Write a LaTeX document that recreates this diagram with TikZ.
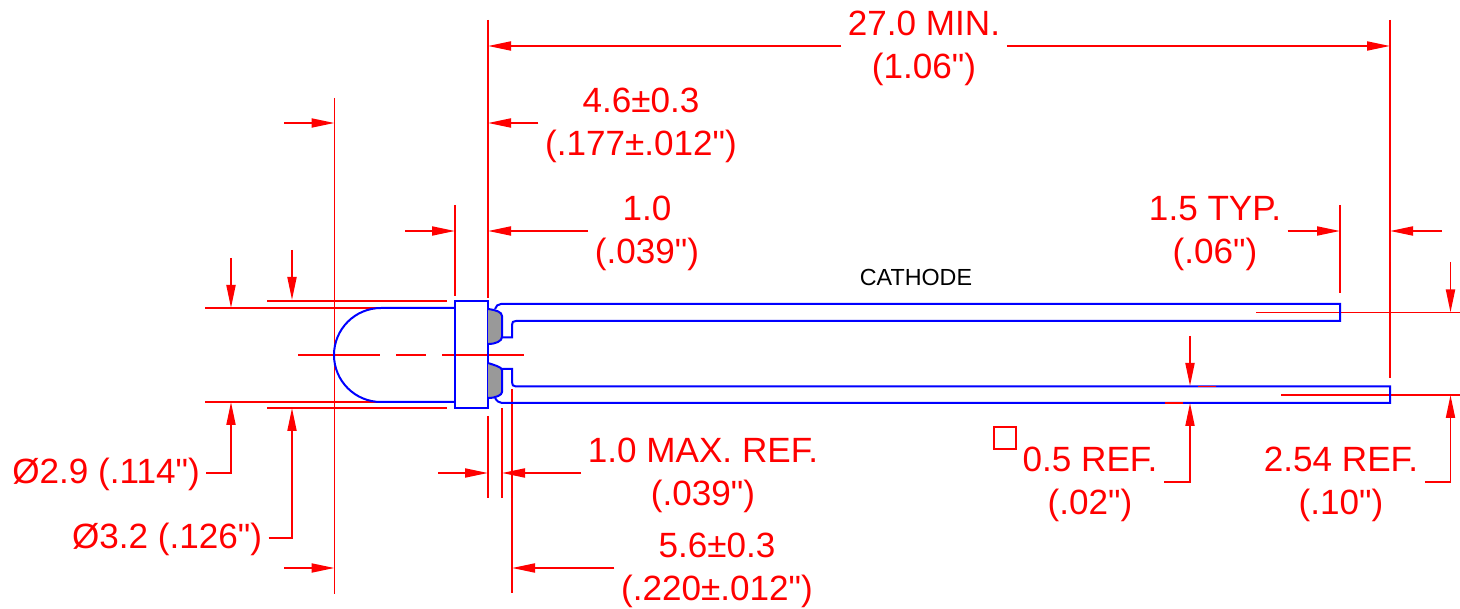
\documentclass[tikz,border=0pt]{standalone}
\usepackage{fontspec}
\setmainfont{Liberation Sans}[Ligatures=TeXOff]
\usepackage{xcolor}
\usetikzlibrary{arrows.meta}
\definecolor{dimred}{RGB}{255,0,0}
\definecolor{ledblue}{RGB}{0,0,255}
\definecolor{solder}{RGB}{153,153,153}
\newcommand{\dimstrut}{\rule[-12.9pt]{0pt}{47pt}}
\tikzset{
	dimline/.style={draw=dimred, line width=1.9pt},
	dimarrow/.style={dimline, ->},
	outline/.style={draw=ledblue, line width=2pt, line join=miter},
	blob/.style={outline, fill=solder},
	dimlabel/.style={text=dimred, font=\fontsize{35.1}{43}\selectfont, align=center, inner xsep=6.5pt, inner ysep=0pt},
	notelabel/.style={text=black, font=\fontsize{23.3}{26}\selectfont, inner sep=0pt}
}

\begin{document}
\begin{tikzpicture}[x=1pt, y=-1pt, >={Triangle[length=23pt,width=9pt]}]
	\useasboundingbox (0,0) rectangle (1460,609);

	\coordinate (domeLeft) at (334.5,355);
	\coordinate (bodyLeft) at (455,231);
	\coordinate (bodyRight) at (488,46);
	\coordinate (collarEnd) at (502,473);
	\coordinate (seatEnd) at (512,568);
	\coordinate (cathodeEnd) at (1340,231);
	\coordinate (anodeEnd) at (1390,46);
	\coordinate (lensTop) at (231,308);
	\coordinate (flangeTop) at (292,300);
	\coordinate (lensBottom) at (231,402);
	\coordinate (flangeBottom) at (292,408);
	\coordinate (cathodeAxis) at (1450.5,312.5);
	\coordinate (anodeAxis) at (1450.5,395);
	\coordinate (leadTop) at (1190,386);
	\coordinate (leadBottom) at (1190,403);

	\node[dimlabel] (lblMin) at (924,46) {\dimstrut 27.0 MIN.\\\strut(1.06")};
	\node[dimlabel] (lblLens) at (641,123) {\dimstrut 4.6±0.3\\\strut(.177±.012")};
	\node[dimlabel] (lblFlange) at (647,231) {\dimstrut 1.0\\\strut(.039")};
	\node[dimlabel] (lblTyp) at (1215,231) {\dimstrut 1.5 TYP.\\\strut(.06")};
	\node[dimlabel] (lblMax) at (703,473) {\dimstrut 1.0 MAX. REF.\\\strut(.039")};
	\node[dimlabel] (lblSeat) at (717,568) {\dimstrut 5.6±0.3\\\strut(.220±.012")};
	\node[dimlabel] (lblSquare) at (1090,482) {\dimstrut 0.5 REF.\\\strut(.02")};
	\node[dimlabel] (lblPitch) at (1341,482) {\dimstrut 2.54 REF.\\\strut(.10")};
	\node[dimlabel] (lblSmall) at (106,473) {\dimstrut Ø2.9 (.114")};
	\node[dimlabel] (lblLarge) at (167,538) {\dimstrut Ø3.2 (.126")};
	\node[notelabel] (lblCathode) at (916,277) {CATHODE};
	\node[draw=dimred, line width=1.2pt, minimum size=22pt, inner sep=0pt] (squareMark) at (1005,438) {};

	\path[dimline]
	(488,20) -- (488,298)
	(488,416) -- (488,498)
	(455,205) -- (455,296)
	(334.5,98) -- (334.5,594)
	(1390,20) -- (1390,378)
	(1340,205) -- (1340,293)
	(502,408) -- (502,498)
	(512,389) -- (512,593)
	(205,308) -- (380,308)
	(267,301) -- (447,301)
	(205,402) -- (380,402)
	(267,408) -- (447,408)
	(298,355) -- (380,355)
	(396,355) -- (426,355)
	(442,355) -- (524,355)
	(1256,312.5) -- (1460,312.5)
	(1281,395) -- (1460,395);

	\node[outline, minimum width=33pt, minimum height=107pt, inner sep=0pt, outer sep=0pt, anchor=north west] (ledBody) at (455,301) {};
	\draw[outline] (ledBody.west |- 0,308) -- (381,308) arc[start angle=270, end angle=90, radius=47] -- (ledBody.west |- 0,402);
	\draw[blob] (488,309) .. controls (496,310) and (502,312) .. (502,316) -- (502,337) .. controls (502,341) and (496,344) .. (488,344);
	\draw[blob] (488,363) .. controls (494,365) and (502,367) .. (502,370) -- (502,392) .. controls (502,395) and (496,398) .. (488,398);
	\draw[outline] (495,309) .. controls (496,306) and (498,304) .. (501,304) -- (1340,304) -- (1340,321) -- (516,321) .. controls (513,321) and (512,322) .. (512,325) -- (512,337.5) -- (502,337.5);
	\draw[outline] (502,369) -- (512,369) -- (512,382) .. controls (512,385) and (513,386.5) .. (516,386.5) -- (1390,386.5) -- (1390,403) -- (502,403) .. controls (499,403) and (497,401) .. (495,398);
	\draw[dimline] (1198,386.5) -- (1216,386.5) (1165,403) -- (1183,403);

	\draw[dimarrow] (lblMin.west) -- (lblMin.west -| bodyRight);
	\draw[dimarrow] (lblMin.east) -- (lblMin.east -| anodeEnd);
	\draw[dimarrow] (lblLens.west) -- (lblLens.west -| bodyRight);
	\draw[dimarrow] (284,123) -- (domeLeft |- lblLens.west);
	\draw[dimarrow] (lblFlange.west) -- (lblFlange.west -| bodyRight);
	\draw[dimarrow] (405,231) -- (bodyLeft);
	\draw[dimarrow] (lblTyp.east) -- (lblTyp.east -| cathodeEnd);
	\draw[dimarrow] (1442,231) -- (anodeEnd |- lblTyp.east);
	\draw[dimarrow] (438,473) -- (bodyRight |- collarEnd);
	\draw[dimarrow] (lblMax.west) -- (lblMax.west -| collarEnd);
	\draw[dimarrow] (lblSeat.west) -- (lblSeat.west -| seatEnd);
	\draw[dimarrow] (284,568) -- (domeLeft |- seatEnd);
	\draw[dimarrow] (231,258) -- (lensTop);
	\draw[dimarrow] (292,250) -- (flangeTop);
	\draw[dimarrow] (lblSmall.east) -| (lensBottom);
	\draw[dimarrow] (lblLarge.east) -| (flangeBottom);
	\draw[dimarrow] (1450.5,262) -- (cathodeAxis);
	\draw[dimarrow] (lblPitch.east) -| (anodeAxis);
	\draw[dimarrow] (1190,336) -- (leadTop);
	\draw[dimarrow] (lblSquare.east) -| (leadBottom);
\end{tikzpicture}
\end{document}
